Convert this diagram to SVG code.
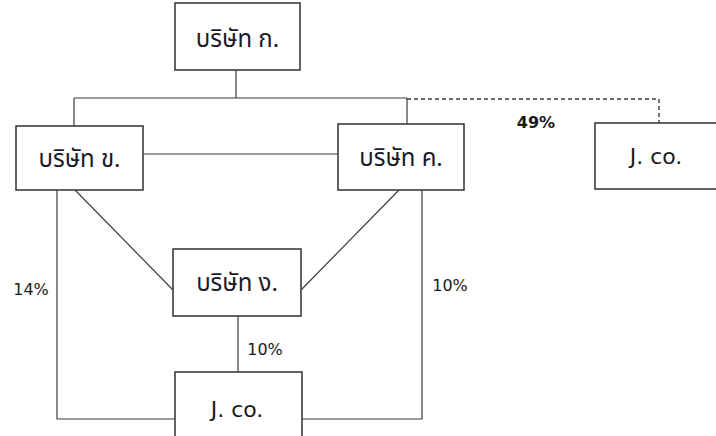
<svg xmlns="http://www.w3.org/2000/svg" width="716" height="436" viewBox="0 0 716 436">
<style>
.box{fill:#fff;stroke:#3c3c3c;stroke-width:1.6}
.ln{fill:none;stroke:#3c3c3c;stroke-width:1.2}
.dash{fill:none;stroke:#3c3c3c;stroke-width:1.4;stroke-dasharray:4 3}
.th{font-family:"Noto Sans Thai","Noto Sans","DejaVu Sans",sans-serif;font-size:24px;fill:#1a1a2a;text-anchor:middle}
.en{font-family:"DejaVu Sans","Noto Sans",sans-serif;font-size:22px;fill:#1a1a1a;text-anchor:middle}
.pc{font-family:"DejaVu Sans","Noto Sans",sans-serif;font-size:16px;fill:#1a1a1a;text-anchor:middle}
</style>
<rect width="716" height="436" fill="#fff"/>
<g id="connectors">
<path class="ln" d="M236 70V98M74 98H407M74 98V126M407 98V124"/>
<path class="dash" d="M407 99H659V123"/>
<path class="ln" d="M143 154H338"/>
<path class="ln" d="M75 190L173 290M399 190L301 290"/>
<path class="ln" d="M57 190V419H175M422 190V419H302"/>
<path class="ln" d="M238 316V372"/>
</g>
<g id="lbl49"><text class="pc" x="536" y="128" font-weight="bold" font-size="15">49%</text></g>
<g id="lbl14"><text class="pc" x="31" y="295">14%</text></g>
<g id="lbl10a"><text class="pc" x="450" y="291">10%</text></g>
<g id="lbl10b"><text class="pc" x="265" y="355">10%</text></g>
<g id="nodeA"><rect class="box" x="175" y="3" width="125" height="67"/><text class="th" x="237.5" y="47">บริษัท ก.</text></g>
<g id="nodeB"><rect class="box" x="16" y="126" width="127" height="64"/><text class="th" x="79.5" y="167">บริษัท ข.</text></g>
<g id="nodeC"><rect class="box" x="338" y="124" width="126" height="66"/><text class="th" x="401" y="166">บริษัท ค.</text></g>
<g id="nodeJ1"><rect class="box" x="595" y="123" width="140" height="66"/><text class="en" x="656" y="164">J. co.</text></g>
<g id="nodeD"><rect class="box" x="173" y="249" width="128" height="67"/><text class="th" x="237" y="291">บริษัท ง.</text></g>
<g id="nodeJ2"><rect class="box" x="175" y="372" width="127" height="80"/><text class="en" x="237" y="417">J. co.</text></g>
</svg>
